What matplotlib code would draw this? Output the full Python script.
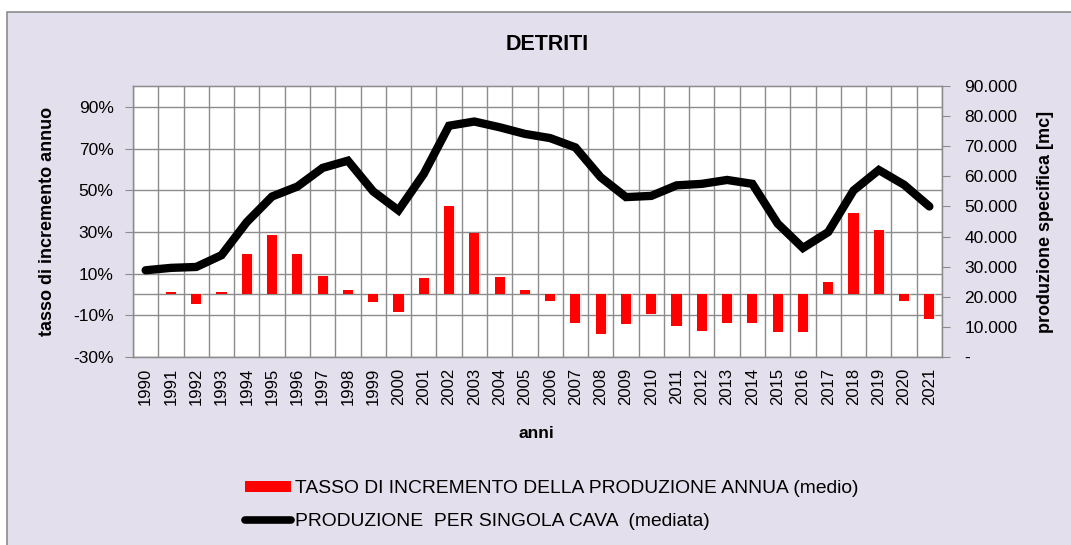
import matplotlib
matplotlib.use("Agg")
import matplotlib.pyplot as plt
from matplotlib.patches import Rectangle
from matplotlib.lines import Line2D
from matplotlib.ticker import FuncFormatter, FixedLocator
import numpy as np

plt.rcParams['font.family'] = ['Liberation Sans', 'DejaVu Sans']

years = list(range(1990, 2022))
tasso = [None, 1.0, -4.5, 1.0, 19.3, 28.6, 19.4, 8.7, 2.0, -3.4, -8.4, 7.9, 42.5, 29.7, 8.4, 2.3,
         -3.2, -13.6, -18.9, -14.2, -9.6, -14.9, -17.6, -13.9, -13.6, -18.2, -17.8, 5.8, 38.9, 30.7, -3.2, -12.0]
produzione = [28800, 29600, 29900, 33800, 44800, 53300, 56600, 62800, 65200, 55000, 48700, 60800, 76800, 78200,
              76300, 74100, 72700, 69600, 59700, 53100, 53500, 57000, 57500, 58800, 57500, 44300, 36200, 41500,
              55300, 62100, 57200, 50000]
left_ticks = [-30, -10, 10, 30, 50, 70, 90]
right_ticks = list(range(0, 90001, 10000))

W, H = 1071, 545
fig = plt.figure(figsize=(W / 100, H / 100), dpi=100)
fig.patch.set_facecolor('white')
fig.patches.append(Rectangle((7 / W, -0.01), 1.2, (H - 12) / H + 0.01, transform=fig.transFigure,
                             facecolor='#E4DFEC', edgecolor='#8C8C8C', linewidth=1.2, zorder=-10))

ax = fig.add_axes([133 / W, 1 - 357 / H, (942 - 133) / W, (357 - 86) / H])
ax.set_facecolor('white')
x = np.arange(len(years))
vals = np.array([np.nan if v is None else v for v in tasso])
# soft shadow
ax.bar(x + 0.06, vals - np.sign(vals) * 0.6, width=0.42, color='#d9d9d9', alpha=0.5, zorder=2)
ax.bar(x, vals, width=0.4, color='#FF0000', zorder=3)
ax.set_xlim(-0.5, len(years) - 0.5)
ax.set_ylim(-30, 100)
ax.yaxis.set_major_locator(FixedLocator(left_ticks))
ax.yaxis.set_major_formatter(FuncFormatter(lambda v, p: f"{int(v)}%"))
ax.set_xticks(x)
ax.set_xticklabels([str(y) for y in years], rotation=90, fontsize=12)
ax.tick_params(axis='x', which='both', length=0, pad=8)
ax.tick_params(axis='y', length=6, color='#8C8C8C', labelsize=12.5, pad=8)
ax.grid(False)
for xb in np.arange(-0.5, len(years), 1):
    ax.axvline(xb, color='#8C8C8C', linewidth=1.0, zorder=1)
for yt in left_ticks + [0]:
    ax.axhline(yt, color='#8C8C8C', linewidth=1.0, zorder=1)
for s in ax.spines.values():
    s.set_color('#8C8C8C')
    s.set_linewidth(1.0)
ax.set_ylabel('tasso di incremento annuo', fontsize=13, fontweight='bold')
ax.yaxis.set_label_coords(-0.095, 0.5)
ax.set_xlabel('anni', fontsize=12.5, fontweight='bold')
ax.xaxis.set_label_coords(0.499, -0.253)

ax2 = ax.twinx()
ax2.plot(x, produzione, color='black', linewidth=6, solid_capstyle='round', solid_joinstyle='miter', zorder=5)
ax2.set_ylim(0, 90000)
ax2.yaxis.set_major_locator(FixedLocator(right_ticks))
ax2.yaxis.set_major_formatter(FuncFormatter(lambda v, p: '-' if v == 0 else f"{int(v):,}".replace(',', '.')))
ax2.tick_params(axis='y', length=6, color='#8C8C8C', labelsize=12.5, pad=10)
for s in ax2.spines.values():
    s.set_color('#8C8C8C')
ax2.set_ylabel('produzione specifica [mc]', fontsize=13, fontweight='bold')
ax2.yaxis.set_label_coords(1.118, 0.5)

fig.text(547 / W, 1 - 44 / H, 'DETRITI', ha='center', va='center', fontsize=15.5, fontweight='bold')

h1 = Rectangle((0, 0), 1, 1, facecolor='#FF0000', edgecolor='none')
h2 = Line2D([0], [0], color='black', linewidth=5.5, solid_capstyle='round')
fig.legend([h1, h2], ['TASSO DI INCREMENTO DELLA PRODUZIONE ANNUA (medio)',
                      'PRODUZIONE  PER SINGOLA CAVA  (mediata)'],
           loc='upper left', bbox_to_anchor=(228 / W, 1 - 463 / H), frameon=False,
           fontsize=13.9, handlelength=2.38, handleheight=0.5, handletextpad=0.2, labelspacing=0.8)

fig.savefig('out.png', dpi=100, facecolor=fig.get_facecolor())
